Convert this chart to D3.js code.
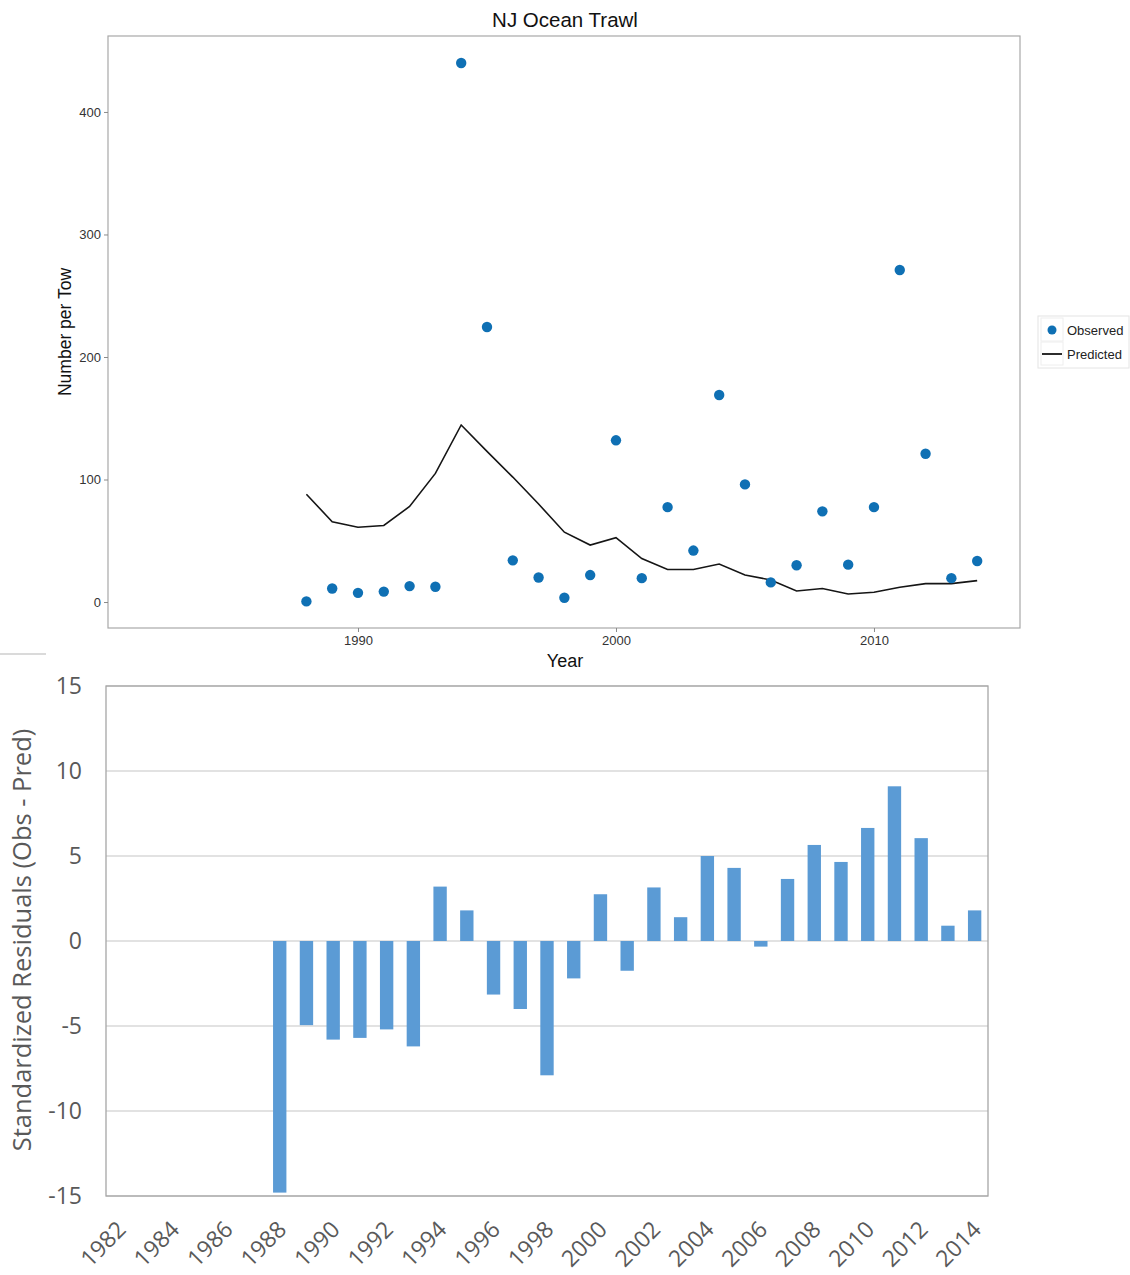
<!DOCTYPE html>
<html>
<head>
<meta charset="utf-8">
<script src="https://cdn.jsdelivr.net/npm/d3@7"></script>
<style>
  html, body { margin: 0; padding: 0; background: #fff; }
  svg { display: block; }
</style>
</head>
<body>
<svg id="chart" width="1130" height="1275"></svg>
<script>
// ---------- Data ----------
const years = [1988,1989,1990,1991,1992,1993,1994,1995,1996,1997,1998,1999,2000,2001,2002,2003,2004,2005,2006,2007,2008,2009,2010,2011,2012,2013,2014];
const observed = [0.5,11,7.5,8.5,13,12.5,440,224.5,34,20,3.5,22,132,19.5,77.5,42,169,96,16,30,74,30.5,77.5,271,121,19.5,33.5];
const predicted = [88,65.5,61,62.5,78,105,144.5,123,102,80,57,46.5,52.5,35.5,26.5,26.5,31,22,18,9,11,6.5,8,12,15,15,17.5];
const topXTicks = [1990, 2000, 2010];
const topYTicks = [0, 100, 200, 300, 400];

const residYears = d3.range(1982, 2015).map(String);
const residuals = [null,null,null,null,null,null,-14.8,-4.95,-5.8,-5.7,-5.2,-6.2,3.2,1.8,-3.15,-4.0,-7.9,-2.2,2.75,-1.75,3.15,1.4,5.0,4.3,-0.33,3.65,5.65,4.65,6.65,9.1,6.05,0.9,1.8];
const residYTicks = [-15, -10, -5, 0, 5, 10, 15];
const residXLabels = d3.range(1982, 2015, 2).map(String);

const svg = d3.select("#chart");
const font1 = "Liberation Sans, Arial, sans-serif";

// ---------- Top chart ----------
const T = { left: 108, right: 1020, top: 36, bottom: 628 };
const xT = d3.scaleLinear().domain([1980.31, 2015.66]).range([T.left, T.right]);
const yT = d3.scaleLinear().domain([-21.2, 462.0]).range([T.bottom, T.top]);

const gTop = svg.append("g").attr("font-family", font1);

gTop.append("rect")
  .attr("x", T.left).attr("y", T.top)
  .attr("width", T.right - T.left).attr("height", T.bottom - T.top)
  .attr("fill", "#fff").attr("stroke", "#a8a8a8").attr("stroke-width", 1.2);

const gxT = gTop.append("g").attr("transform", `translate(0,${T.bottom})`)
  .call(d3.axisBottom(xT).tickValues(topXTicks).tickFormat(d3.format("d")).tickSize(4).tickPadding(4));
gxT.select(".domain").remove();
gxT.selectAll(".tick line").attr("stroke", "#8a8a8a");
gxT.selectAll(".tick text").attr("font-size", 13).attr("fill", "#333").attr("font-family", font1);

const gyT = gTop.append("g").attr("transform", `translate(${T.left},0)`)
  .call(d3.axisLeft(yT).tickValues(topYTicks).tickSize(4).tickPadding(3));
gyT.select(".domain").remove();
gyT.selectAll(".tick line").attr("stroke", "#8a8a8a");
gyT.selectAll(".tick text").attr("font-size", 13).attr("fill", "#333").attr("font-family", font1);

const line = d3.line().x((d, i) => xT(years[i])).y(d => yT(d));
gTop.append("path").datum(predicted)
  .attr("d", line).attr("fill", "none").attr("stroke", "#151515").attr("stroke-width", 1.6);

gTop.append("g").selectAll("circle").data(observed).join("circle")
  .attr("cx", (d, i) => xT(years[i])).attr("cy", d => yT(d)).attr("r", 5.2)
  .attr("fill", "#0f70b4");

gTop.append("text").attr("x", 565).attr("y", 27).attr("text-anchor", "middle")
  .attr("font-size", 20.5).attr("fill", "#111").text("NJ Ocean Trawl");
gTop.append("text").attr("x", 565).attr("y", 667).attr("text-anchor", "middle")
  .attr("font-size", 18).attr("fill", "#111").text("Year");
gTop.append("text").attr("transform", "translate(71,332) rotate(-90)").attr("text-anchor", "middle")
  .attr("font-size", 17.5).attr("fill", "#111").text("Number per Tow");

// legend
const lg = gTop.append("g");
lg.append("rect").attr("x", 1038).attr("y", 316).attr("width", 91).attr("height", 52)
  .attr("fill", "#fff").attr("stroke", "#e4e4e4");
lg.append("rect").attr("x", 1041).attr("y", 318).attr("width", 22).attr("height", 23)
  .attr("fill", "#fff").attr("stroke", "#eee");
lg.append("rect").attr("x", 1041).attr("y", 342).attr("width", 22).attr("height", 23)
  .attr("fill", "#fff").attr("stroke", "#eee");
lg.append("circle").attr("cx", 1052).attr("cy", 330).attr("r", 4.5).attr("fill", "#0f70b4");
lg.append("line").attr("x1", 1042).attr("x2", 1062).attr("y1", 354).attr("y2", 354)
  .attr("stroke", "#151515").attr("stroke-width", 1.8);
lg.append("text").attr("x", 1067).attr("y", 335).attr("font-size", 13).attr("fill", "#222").text("Observed");
lg.append("text").attr("x", 1067).attr("y", 359).attr("font-size", 13).attr("fill", "#222").text("Predicted");

// stray separator line
svg.append("line").attr("x1", 0).attr("x2", 46).attr("y1", 654).attr("y2", 654)
  .attr("stroke", "#b5b5b5").attr("stroke-width", 1);

// ---------- Bottom chart ----------
const B = { left: 106, right: 988, top: 686, bottom: 1196 };
const xB = d3.scaleBand().domain(residYears).range([B.left, B.right]).paddingInner(0.5).paddingOuter(0.25);
const yB = d3.scaleLinear().domain([-15, 15]).range([B.bottom, B.top]);
const font2 = "Open Sans, Noto Sans, sans-serif";

const gBot = svg.append("g").attr("font-family", font2);

gBot.append("g").selectAll("line").data(residYTicks).join("line")
  .attr("x1", B.left).attr("x2", B.right)
  .attr("y1", d => yB(d)).attr("y2", d => yB(d))
  .attr("stroke", "#d9d9d9").attr("stroke-width", 1.3);

gBot.append("g").selectAll("rect").data(residuals.map((v, i) => ({ y: residYears[i], v })).filter(d => d.v !== null))
  .join("rect")
  .attr("x", d => xB(d.y)).attr("width", xB.bandwidth())
  .attr("y", d => yB(Math.max(0, d.v))).attr("height", d => Math.abs(yB(d.v) - yB(0)))
  .attr("fill", "#5b9bd5");

gBot.append("rect")
  .attr("x", B.left).attr("y", B.top).attr("width", B.right - B.left).attr("height", B.bottom - B.top)
  .attr("fill", "none").attr("stroke", "#a6a6a6").attr("stroke-width", 1.3);

const gyB = gBot.append("g").attr("transform", `translate(${B.left},0)`)
  .call(d3.axisLeft(yB).tickValues(residYTicks).tickSize(0).tickPadding(24).tickFormat(d => d < 0 ? "-" + Math.abs(d) : d));
gyB.select(".domain").remove();
gyB.selectAll(".tick text").attr("font-size", 23).attr("fill", "#595959").attr("font-family", font2);

const gxB = gBot.append("g").attr("transform", `translate(0,${B.bottom})`)
  .call(d3.axisBottom(xB).tickValues(residXLabels).tickSize(0).tickPadding(0));
gxB.select(".domain").remove();
gxB.selectAll(".tick text")
  .attr("font-size", 23).attr("fill", "#595959").attr("font-family", font2)
  .attr("text-anchor", "end").attr("dy", null).attr("y", 0)
  .attr("transform", "translate(8,35) rotate(-45)");

gBot.append("text").attr("transform", "translate(31,940) rotate(-90)").attr("text-anchor", "middle")
  .attr("font-size", 25.5).attr("fill", "#595959").text("Standardized Residuals (Obs - Pred)");
</script>
</body>
</html>
